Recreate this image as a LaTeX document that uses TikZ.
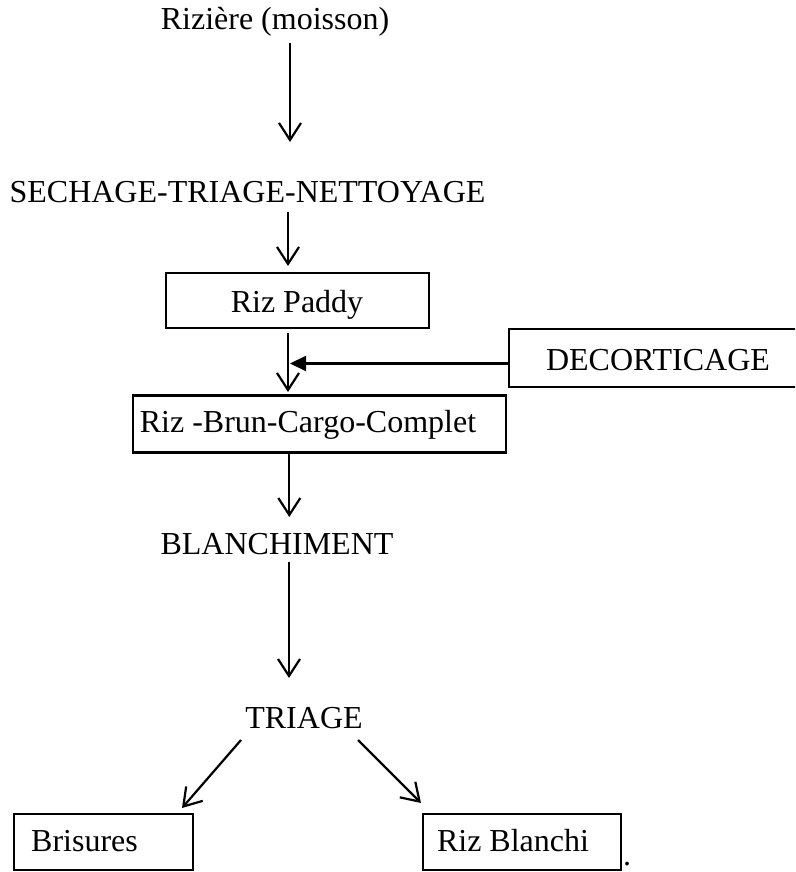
\documentclass[tikz,border=0pt]{standalone}
\usepackage{fontspec}
\setmainfont{Liberation Serif}
\usetikzlibrary{arrows.meta}
\begin{document}
\begin{tikzpicture}[x=1pt,y=-1pt,
  lbl/.style={inner sep=0pt, anchor=base, font=\fontsize{32}{38}\selectfont},
  boxx/.style={draw, line width=2.2pt, inner sep=0pt},
  arr/.style={line width=2.2pt, -{Straight Barb[length=17pt,width=22pt,line width=2.2pt]}},
  farr/.style={line width=2.2pt, -{Triangle[length=16pt,width=15pt]}}]
\useasboundingbox (0,0) rectangle (795,872);
\clip (0,0) rectangle (795,872);
% boxes
\node[boxx, minimum width=263pt, minimum height=55pt] (paddyBox) at (297.5,300.5) {};
\node[boxx, minimum width=373pt, minimum height=57pt] (brunBox) at (319.4,424) {};
\node[boxx, minimum width=321pt, minimum height=58pt] (decorBox) at (669.5,358) {};
\node[boxx, minimum width=179pt, minimum height=56pt] (brisBox) at (103.5,842) {};
\node[boxx, minimum width=198pt, minimum height=56pt] (blanchiBox) at (522,842) {};
% texts
\node[lbl] (riziere) at (275,30) {Rizière (moisson)};
\node[lbl] (sech) at (247.5,202) {SECHAGE-TRIAGE-NETTOYAGE};
\node[lbl] (paddy) at (297,312.7) {Riz Paddy};
\node[lbl] (decor) at (658,370) {DECORTICAGE};
\node[lbl] (brun) at (308,432.7) {Riz -Brun-Cargo-Complet};
\node[lbl] (blanch) at (277,554) {BLANCHIMENT};
\node[lbl] (triage) at (304,728) {TRIAGE};
\node[lbl] (bris) at (84.5,851.7) {Brisures};
\node[lbl] (blanchi) at (513,851.7) {Riz Blanchi};
\node[lbl] (dot) at (627,865) {.};
% connector end points
\coordinate (a1s) at (290,43);   \coordinate (a1e) at (290,142);
\coordinate (a2s) at (288,212);  \coordinate (a2e) at (288,266);
\coordinate (a3s) at (288,333);  \coordinate (a3e) at (288,392);
\coordinate (hs) at (509,363.5); \coordinate (he) at (290,363.5);
\coordinate (a4s) at (289.3,453); \coordinate (a4e) at (289.3,517);
\coordinate (a5s) at (289,562);  \coordinate (a5e) at (289,678);
\coordinate (a6s) at (241,740);  \coordinate (a6e) at (182,808);
\coordinate (a7s) at (358,740);  \coordinate (a7e) at (421,803);
% connectors
\draw[arr] (a1s) -- (a1e);
\draw[arr] (a2s) -- (a2e);
\draw[arr] (a3s) -- (a3e);
\draw[farr] (hs) -- (he);
\draw[arr] (a4s) -- (a4e);
\draw[arr] (a5s) -- (a5e);
\draw[arr] (a6s) -- (a6e);
\draw[arr] (a7s) -- (a7e);
\end{tikzpicture}
\end{document}
